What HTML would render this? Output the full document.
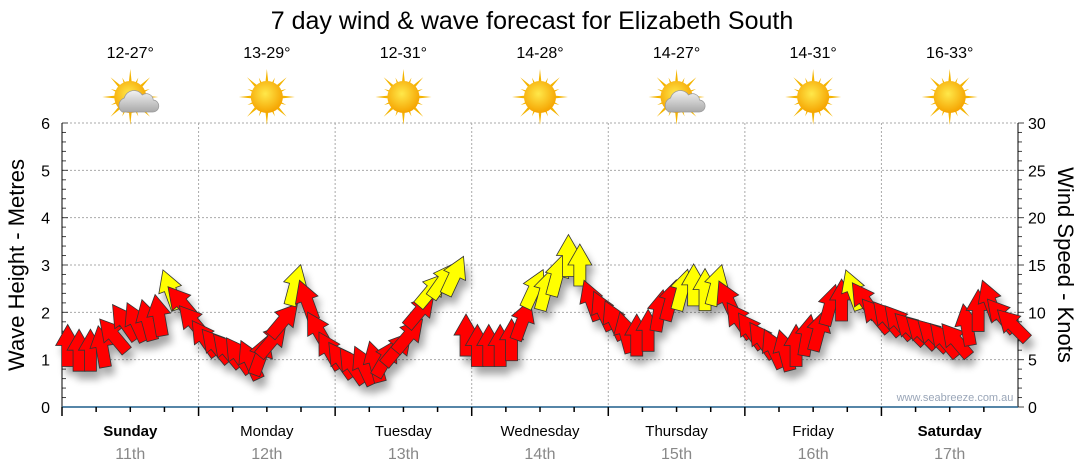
<!DOCTYPE html>
<html><head><meta charset="utf-8"><style>
body{margin:0;background:#fff;}
svg{display:block;font-family:"Liberation Sans","DejaVu Sans",sans-serif;}
</style></head><body>
<svg id="chart" width="1080" height="475" viewBox="0 0 1080 475">
<defs>
<filter id="sh" x="-50%" y="-50%" width="200%" height="200%"><feGaussianBlur stdDeviation="4"/></filter>
<radialGradient id="sunG" cx="45%" cy="40%" r="60%"><stop offset="0" stop-color="#ffe84a"/><stop offset="1" stop-color="#f5a300"/></radialGradient>
<linearGradient id="cloudG" x1="0" y1="0" x2="0" y2="1"><stop offset="0" stop-color="#f2f2f2"/><stop offset="1" stop-color="#a9a9a9"/></linearGradient>
</defs>
<text x="532" y="29" font-size="25" text-anchor="middle">7 day wind &amp; wave forecast for Elizabeth South</text>
<g id="grid"></g>
<g id="axes"></g>
<g id="shadows" filter="url(#sh)" opacity="0.35"></g>
<g id="arrows"></g>
<g id="icons"></g>
<text x="955" y="401" font-size="11" fill="#9aa6b8" text-anchor="middle">www.seabreeze.com.au</text>
<text transform="translate(24,265) rotate(-90)" font-size="22" text-anchor="middle">Wave Height - Metres</text>
<text transform="translate(1058,265) rotate(90)" font-size="22" text-anchor="middle">Wind Speed - Knots</text>
</svg>
<script>
const days=["Sunday","Monday","Tuesday","Wednesday","Thursday","Friday","Saturday"];
const dates=["11th","12th","13th","14th","15th","16th","17th"];
const temps=["12-27°","13-29°","12-31°","14-28°","14-27°","14-31°","16-33°"];
const cloudy=[true,false,false,false,true,false,false];
const boldDays=[true,false,false,false,false,false,true];
const leftTicks=[0,1,2,3,4,5,6];
const rightTicks=[0,5,10,15,20,25,30];
const windKnots=[6.5,6.0,6.0,6.4,7.6,9.0,9.0,9.2,9.7,12.4,11.0,9.0,
7.3,6.5,6.0,5.5,5.0,5.5,7.1,9.2,12.9,11.3,8.1,6.0,
5.0,4.4,4.4,4.8,5.2,6.2,7.6,10.2,12.4,13.4,13.9,7.6,
6.5,6.5,6.5,7.1,9.2,12.5,12.4,13.9,16.0,15.0,11.3,10.2,
9.2,7.9,7.6,8.1,10.2,11.3,12.4,12.9,12.4,12.9,11.3,9.2,
8.1,7.1,6.2,6.0,6.5,7.6,8.1,10.8,11.3,12.4,11.3,9.7,
9.4,9.0,8.3,7.9,7.6,7.1,7.1,8.7,10.2,11.3,9.7,8.7];
const windDir=[0,0,0,-10,-40,-35,-25,-15,-10,-20,-40,-40,
-35,-40,-40,-35,-25,20,40,40,15,-20,-30,-30,
-35,-35,-25,-15,30,40,40,40,40,35,25,0,
0,0,0,0,20,25,15,15,0,0,-20,-25,
-25,-15,0,0,10,15,15,0,0,15,-25,-35,
-35,-35,-25,-15,0,10,15,15,0,-20,-35,-40,
-40,-40,-45,-45,-45,-40,-40,-10,0,-20,-40,-45];
const yellowFrom=12;

const NS="http://www.w3.org/2000/svg";
const X0=62,X1=1018,Y0=407,Y1=123;
const dayW=(X1-X0)/7;
const yM=v=>Y0-(v/6)*(Y0-Y1);
const yK=v=>Y0-(v/30)*(Y0-Y1);
const xH=h=>X0+(h/24)*dayW;
function mk(tag,attrs,parent){const e=document.createElementNS(NS,tag);for(const k in attrs)e.setAttribute(k,attrs[k]);parent.appendChild(e);return e;}
const grid=document.getElementById('grid'),axes=document.getElementById('axes');
leftTicks.forEach(v=>{
 if(v>0){const l=mk('line',{x1:X0,x2:X1,y1:yM(v),y2:yM(v),stroke:'#aaa','stroke-dasharray':'2,2'},grid);
 
 }
 const t=mk('text',{x:X0-12,y:yM(v)+6,'font-size':16,'text-anchor':'end'},axes);t.textContent=v;
 
 
});
for(let i=0;i<=30;i++){const v=i/5;mk('line',{x1:X0,x2:X0+(i%5==0?6:4),y1:yM(v),y2:yM(v),stroke:'#444'},axes);}
rightTicks.forEach(v=>{
 const t=mk('text',{x:X1+10,y:yK(v)+6,'font-size':16},axes);t.textContent=v;
 
 
});
for(let i=0;i<=30;i++){mk('line',{x1:X1,x2:X1+(i%5==0?6:4),y1:yK(i),y2:yK(i),stroke:'#444'},axes);}
mk('line',{x1:X0,x2:X0,y1:Y1,y2:Y0,stroke:'#000'},axes);
mk('line',{x1:X1,x2:X1,y1:Y1,y2:Y0,stroke:'#000'},axes);
mk('line',{x1:X0,x2:X1,y1:Y0,y2:Y0,stroke:'#1f5f8b','stroke-width':1.5},axes);
const icons=document.getElementById('icons');
days.forEach((d,i)=>{
 const xs=X0+i*dayW,cx=xs+dayW/2;
 if(i>0){const l=mk('line',{x1:xs,x2:xs,y1:Y1,y2:Y0,stroke:'#aaa','stroke-dasharray':'2,2'},grid);
 
 }
 for(let q=0;q<4;q++){mk('line',{x1:xs+q*dayW/4,x2:xs+q*dayW/4,y1:Y0,y2:Y0+(q==0?9:5),stroke:'#000','stroke-width':1.5},axes);}
 const t=mk('text',{x:cx,y:436,'font-size':15,'text-anchor':'middle','font-weight':boldDays[i]?'bold':'normal'},axes);t.textContent=d;
 
 
 const t2=mk('text',{x:cx,y:459,'font-size':16,'text-anchor':'middle',fill:'#888'},axes);t2.textContent=dates[i];
 
 
 const t3=mk('text',{x:cx,y:58,'font-size':16,'text-anchor':'middle'},icons);t3.textContent=temps[i];
 
 
 const g=mk('g',{transform:`translate(${cx},97)`},icons);
 
 
 for(let r=0;r<16;r++){const a=r*22.5;const L=r%2?21:28;
  mk('polygon',{points:`-3,0 0,-${L} 3,0`,fill:'#f4b400',transform:`rotate(${a})`},g);}
 mk('circle',{r:16,fill:'url(#sunG)'},g);
 if(cloudy[i]){mk('path',{d:'M-8,15 a8,8 0 0 1 2,-14 a10,10 0 0 1 18,-3 a7,7 0 0 1 11,5 a6,6 0 0 1 -1,12 z',fill:'url(#cloudG)',stroke:'#999','stroke-width':0.7},g);}
});
const sh=document.getElementById('shadows'),ar=document.getElementById('arrows');
const ap='M-6,21 L-6,0 L-12,0 L0,-21 L12,0 L6,0 L6,21 Z';
windKnots.forEach((k,i)=>{
 const x=xH(1+i*2),y=yK(k);
 mk('path',{d:ap,fill:'#000',transform:`translate(${x+4},${y+8}) rotate(${windDir[i]})`},sh);
 const p=mk('path',{d:ap,fill:k>=yellowFrom?'#ffff00':'#ff0000',stroke:'#333','stroke-width':0.8,transform:`translate(${x},${y}) rotate(${windDir[i]})`},ar);
 
 
});
</script>
</body></html>
